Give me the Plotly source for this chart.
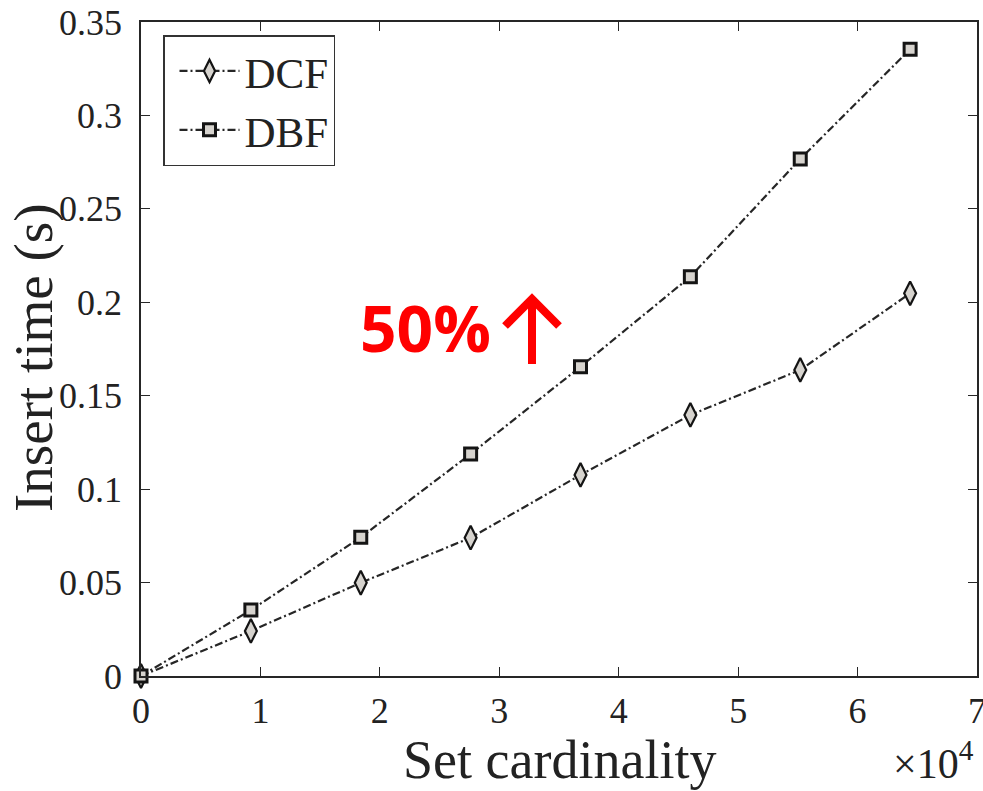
import plotly.graph_objects as go

# ---- data ----
set_card = [0, 9200, 18400, 27600, 36800, 46000, 55200, 64400]
dcf_time = [0.0, 0.0241, 0.0499, 0.0740, 0.1076, 0.1397, 0.1638, 0.2048]
dbf_time = [0.0, 0.0353, 0.0742, 0.1188, 0.1655, 0.2137, 0.2767, 0.3354]
x_tickvals = [0, 10000, 20000, 30000, 40000, 50000, 60000, 70000]
x_ticktext = ["0", "1", "2", "3", "4", "5", "6", "7"]
y_tickvals = [0, 0.05, 0.1, 0.15, 0.2, 0.25, 0.3, 0.35]
y_ticktext = ["0", "0.05", "0.1", "0.15", "0.2", "0.25", "0.3", "0.35"]

W, H = 983, 791
L, R, T, B = 141, 6, 22, 115
PW, PH = W - L - R, H - T - B

def px(x):
    return (x - L) / PW

def py(y):
    return (H - B - y) / PH

SERIF = "Liberation Serif, Times New Roman, serif"
FILL = "#d6d3ce"
EDGE = "#141414"
LINE = "#262626"
DASH = "8px,3px,2px,3px"

fig = go.Figure()
fig.add_trace(go.Scatter(
    x=set_card, y=dcf_time, name="DCF", mode="lines+markers", cliponaxis=False,
    line=dict(color=LINE, width=2.2, dash=DASH),
    marker=dict(symbol="diamond-tall", size=17, color=FILL,
                line=dict(color=EDGE, width=2.2)),
))
fig.add_trace(go.Scatter(
    x=set_card, y=dbf_time, name="DBF", mode="lines+markers", cliponaxis=False,
    line=dict(color=LINE, width=2.2, dash=DASH),
    marker=dict(symbol="square", size=12, color=FILL,
                line=dict(color=EDGE, width=3)),
))

axis_common = dict(
    showgrid=False, zeroline=False, showline=True, linecolor="#262626",
    linewidth=1.5, mirror="ticks", ticks="inside", ticklen=9, tickwidth=1.2,
    tickcolor="#262626", tickfont=dict(family=SERIF, size=36, color="#222222"),
    ticklabeloverflow="allow", automargin=False,
)
fig.update_xaxes(range=[0, 70000], tickvals=x_tickvals, ticktext=x_ticktext,
                 ticklabelstandoff=2, **axis_common)
fig.update_yaxes(range=[0, 0.35], tickvals=y_tickvals, ticktext=y_ticktext,
                 ticklabelstandoff=10, **axis_common)

annotations = [
    dict(text="Set cardinality", x=0.5, y=py(760), xref="paper", yref="paper",
         showarrow=False, xanchor="center", yanchor="middle",
         font=dict(family=SERIF, size=54, color="#222222")),
    dict(text="Insert time (s)", x=px(33), y=py(358), xref="paper", yref="paper",
         showarrow=False, xanchor="center", yanchor="middle", textangle=-90,
         font=dict(family=SERIF, size=55, color="#222222")),
    dict(text="×10<sup>4</sup>", x=px(975), y=py(760), xref="paper", yref="paper",
         showarrow=False, xanchor="right", yanchor="middle", borderpad=0,
         font=dict(family=SERIF, size=42, color="#222222")),
    dict(text="<b>50%</b>", x=px(358), y=py(327), xref="paper", yref="paper",
         showarrow=False, xanchor="left", yanchor="middle",
         font=dict(family="Open Sans, Noto Sans, sans-serif", size=64, color="#ff0000")),
]

shapes = [
    dict(type="line", xref="paper", yref="paper",
         x0=px(532), y0=py(364), x1=px(532), y1=py(302),
         line=dict(color="#ff0000", width=8)),
    dict(type="path", xref="paper", yref="paper",
         path=f"M {px(505)},{py(326)} L {px(532)},{py(299)} L {px(559)},{py(326)}",
         line=dict(color="#ff0000", width=8)),
]

fig.update_layout(
    width=W, height=H,
    margin=dict(l=L, r=R, t=T, b=B),
    paper_bgcolor="white", plot_bgcolor="white",
    showlegend=True,
    legend=dict(x=px(163), y=py(35), xanchor="left", yanchor="top",
                bgcolor="white", bordercolor="#333333", borderwidth=1.5,
                font=dict(family=SERIF, size=43, color="#222222"),
                tracegroupgap=0, itemwidth=60, indentation=10),
    annotations=annotations, shapes=shapes,
)

fig.write_html("out.html")
